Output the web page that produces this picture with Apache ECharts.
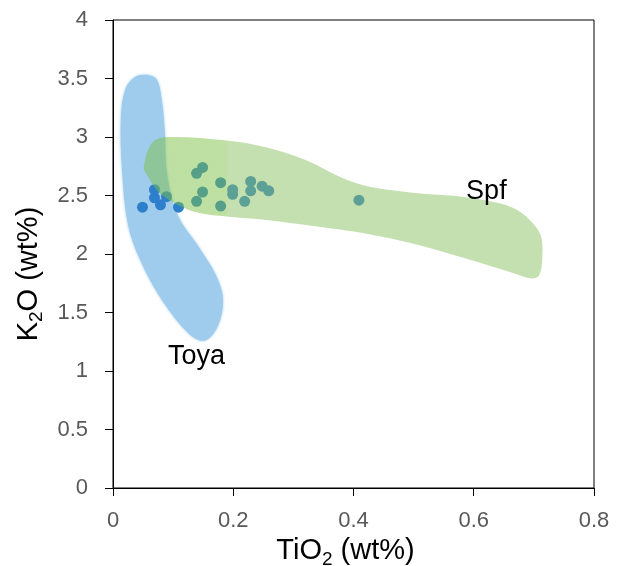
<!DOCTYPE html>
<html>
<head>
<meta charset="utf-8">
<script src="https://cdn.jsdelivr.net/npm/echarts@6/dist/echarts.min.js"></script>
<style>
  html, body { margin: 0; padding: 0; background: #fff; }
  #chart { width: 622px; height: 566px; }
</style>
</head>
<body>
<div id="chart"></div>
<script>
// measured samples (TiO2, K2O)
const samples = [
    [0.049, 2.40], [0.069, 2.55], [0.069, 2.48], [0.079, 2.42], [0.089, 2.49], [0.109, 2.40],
    [0.139, 2.69], [0.149, 2.74], [0.149, 2.53], [0.139, 2.45], [0.179, 2.61], [0.179, 2.41],
    [0.199, 2.55], [0.199, 2.51], [0.219, 2.45], [0.229, 2.62], [0.229, 2.54], [0.248, 2.58],
    [0.259, 2.54], [0.409, 2.46]
];

// outline of the Toya field
const toyaField = [
    [0.058, 3.53], [0.073, 3.49], [0.081, 3.32], [0.086, 3.06], [0.090, 2.68], [0.108, 2.33],
    [0.144, 2.05], [0.171, 1.82], [0.183, 1.61], [0.174, 1.38], [0.153, 1.26], [0.128, 1.31],
    [0.081, 1.61], [0.045, 1.95], [0.025, 2.25], [0.015, 2.72], [0.013, 3.15], [0.020, 3.40],
    [0.036, 3.51]
];

// outline of the Spf field
const spfField = [
    [0.051, 2.74], [0.065, 2.95], [0.090, 3.00], [0.189, 2.97], [0.256, 2.91], [0.322, 2.80],
    [0.377, 2.66], [0.415, 2.59], [0.471, 2.54], [0.526, 2.51], [0.581, 2.49], [0.637, 2.44],
    [0.671, 2.38], [0.697, 2.27], [0.712, 2.15], [0.714, 1.97], [0.709, 1.82], [0.697, 1.79],
    [0.664, 1.84], [0.581, 1.97], [0.498, 2.09], [0.415, 2.18], [0.360, 2.22], [0.256, 2.29],
    [0.189, 2.32], [0.144, 2.35], [0.116, 2.40], [0.078, 2.52], [0.056, 2.68]
];

const fieldNames = ['Toya', 'Spf'];
const fieldLabelPos = [[0.139, 1.12], [0.621, 2.53]];

const xTicks = [0, 0.8, 0.2];
const yTicks = [0, 4, 0.5];

document.addEventListener('DOMContentLoaded', function() {
    const chart = echarts.init(document.getElementById('chart'));

    function fieldSeries(name, pts, fill, z, split) {
        return {
            type: 'custom',
            name: name,
            z: z,
            silent: true,
            data: pts,
            renderItem: function(params, api) {
                if (params.dataIndex !== 0) return null;
                const points = pts.map(p => api.coord(p));
                let style = { fill: fill };
                if (split) {
                    // the left part of the field is a bit brighter
                    const xs = points.map(p => p[0]);
                    const x0 = Math.min.apply(null, xs), x1 = Math.max.apply(null, xs);
                    const s = (api.coord([split.at, 0])[0] - x0) / (x1 - x0);
                    style.fill = {
                        type: 'linear', x: x0, y: 0, x2: x1, y2: 0, global: true,
                        colorStops: [
                            { offset: 0, color: split.left },
                            { offset: s, color: split.left },
                            { offset: s, color: fill },
                            { offset: 1, color: fill }
                        ]
                    };
                } else {
                    style.shadowBlur = 3;
                    style.shadowColor = fill;
                }
                return {
                    type: 'polygon',
                    shape: { points: points, smooth: 0.35 },
                    style: style
                };
            }
        };
    }

    const subStyle = { fontFamily: 'Liberation Sans', fontSize: 19, color: '#000', padding: [17, 0, 0, 0] };

    const axisCommon = {
        type: 'value',
        nameLocation: 'middle',
        axisLine: { show: true, lineStyle: { color: '#000', width: 1 } },
        axisTick: { show: true, inside: false, length: 8, lineStyle: { color: '#000' } },
        splitLine: { show: false }
    };

    const option = {
        animation: false,
        grid: {
            left: 113, right: 28, top: 20, bottom: 78,
            outerBoundsMode: 'none',
            show: true, borderColor: '#000', borderWidth: 1
        },
        xAxis: Object.assign({}, axisCommon, {
            min: xTicks[0], max: xTicks[1], interval: xTicks[2],
            name: 'TiO{sub|2} (wt%)',
            nameGap: 44,
            nameTextStyle: {
                fontFamily: 'Liberation Sans', fontSize: 29, color: '#000',
                padding: [0, 16, 0, 0],
                rich: { sub: subStyle }
            },
            axisLabel: { fontFamily: 'Liberation Sans', fontSize: 22, color: '#595959', margin: 22 }
        }),
        yAxis: Object.assign({}, axisCommon, {
            min: yTicks[0], max: yTicks[1], interval: yTicks[2],
            name: 'K{sub|2}O (wt%)',
            nameGap: 64,
            nameTextStyle: {
                fontFamily: 'Liberation Sans', fontSize: 29, color: '#000',
                padding: [0, 40, 0, 0],
                rich: { sub: subStyle }
            },
            axisLabel: { fontFamily: 'Liberation Sans', fontSize: 22, color: '#595959', margin: 25 }
        }),
        series: [
            fieldSeries('Toya', toyaField, '#9fcbec', 1, null),
            {
                type: 'scatter',
                name: 'samples',
                z: 2,
                data: samples,
                symbolSize: 11,
                itemStyle: { color: '#2e7fcb', opacity: 1 }
            },
            fieldSeries('Spf', spfField, 'rgba(139,193,97,0.5)', 3,
                { at: 0.189, left: 'rgba(125,192,70,0.5)' }),
            {
                type: 'custom',
                name: 'labels',
                z: 4,
                silent: true,
                data: fieldLabelPos,
                renderItem: function(params, api) {
                    const p = api.coord([api.value(0), api.value(1)]);
                    return {
                        type: 'text',
                        x: p[0], y: p[1],
                        style: {
                            text: fieldNames[params.dataIndex],
                            fontFamily: 'Liberation Sans',
                            fontSize: 27,
                            fill: '#000',
                            align: 'center',
                            verticalAlign: 'middle'
                        }
                    };
                }
            }
        ]
    };

    chart.setOption(option);

    window.addEventListener('resize', () => {
        chart.resize();
    });
});
</script>
</body>
</html>
